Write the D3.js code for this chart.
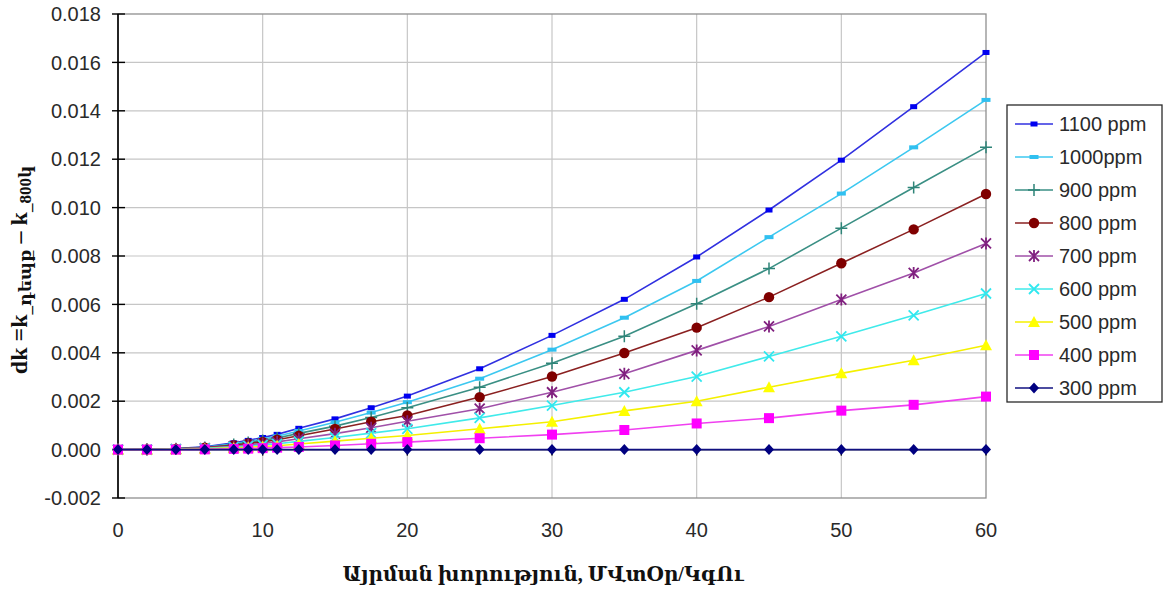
<!DOCTYPE html>
<html>
<head>
<meta charset="utf-8">
<script src="https://cdn.jsdelivr.net/npm/d3@7"></script>
<style>
  body { margin: 0; background: #fff; }
  svg { display: block; }
</style>
</head>
<body>
<svg id="chart" width="1168" height="589"></svg>
<script>
// Burn-up depth (x) and reactivity difference for each enrichment series
const depth = [0, 2, 4, 6, 8, 9, 10, 11, 12.5, 15, 17.5, 20, 25, 30, 35, 40, 45, 50, 55, 60];

const dk1100 = [0, 0.00001, 0.00004, 0.00012, 0.00028, 0.00038, 0.00050, 0.00063, 0.00088, 0.00127, 0.00173, 0.00221, 0.00334, 0.00472, 0.00621, 0.00796, 0.00990, 0.01196, 0.01417, 0.01641];
const dk1000 = [0, 0.00001, 0.00003, 0.00010, 0.00024, 0.00033, 0.00044, 0.00055, 0.00077, 0.00113, 0.00153, 0.00196, 0.00293, 0.00413, 0.00545, 0.00697, 0.00878, 0.01058, 0.01249, 0.01445];
const dk900  = [0, 0.00001, 0.00003, 0.00009, 0.00021, 0.00029, 0.00038, 0.00048, 0.00067, 0.00097, 0.00133, 0.00173, 0.00258, 0.00357, 0.00468, 0.00603, 0.00748, 0.00915, 0.01083, 0.01249];
const dk800  = [0, 0.00001, 0.00003, 0.00008, 0.00018, 0.00025, 0.00032, 0.00041, 0.00057, 0.00085, 0.00115, 0.00141, 0.00217, 0.00302, 0.00399, 0.00504, 0.00630, 0.00770, 0.00910, 0.01056];
const dk700  = [0, 0, 0.00002, 0.00006, 0.00014, 0.00019, 0.00025, 0.00032, 0.00045, 0.00066, 0.00090, 0.00117, 0.00169, 0.00237, 0.00313, 0.00410, 0.00509, 0.00620, 0.00730, 0.00852];
const dk600  = [0, 0, 0.00002, 0.00005, 0.00011, 0.00015, 0.00019, 0.00024, 0.00034, 0.00050, 0.00068, 0.00086, 0.00131, 0.00182, 0.00237, 0.00302, 0.00385, 0.00468, 0.00555, 0.00645];
const dk500  = [0, 0, 0.00001, 0.00003, 0.00007, 0.00010, 0.00013, 0.00016, 0.00023, 0.00035, 0.00047, 0.00058, 0.00086, 0.00115, 0.00160, 0.00200, 0.00258, 0.00315, 0.00369, 0.00431];
const dk400  = [0, 0, 0, 0.00001, 0.00003, 0.00004, 0.00006, 0.00008, 0.00011, 0.00017, 0.00024, 0.00031, 0.00047, 0.00062, 0.00081, 0.00108, 0.00130, 0.00161, 0.00185, 0.00219];
const dk300  = [0, 0, 0, 0, 0, 0, 0, 0, 0, 0, 0, 0, 0, 0, 0, 0, 0, 0, 0, 0];

const seriesNames = ["1100 ppm", "1000ppm", "900 ppm", "800 ppm", "700 ppm", "600 ppm", "500 ppm", "400 ppm", "300 ppm"];
const seriesValues = [dk1100, dk1000, dk900, dk800, dk700, dk600, dk500, dk400, dk300];

const xTickValues = [0, 10, 20, 30, 40, 50, 60];
const yTickValues = [-0.002, 0, 0.002, 0.004, 0.006, 0.008, 0.010, 0.012, 0.014, 0.016, 0.018];

const xTitle = "Այրման խորություն, ՄՎտՕր/ԿգՈւ";

// Line colour, marker colour and marker shape for each series
const styles = [
  { line: "#3030e0", fill: "#0000f0", shape: "smallRect" },
  { line: "#3cc8f0", fill: "#30c0f0", shape: "dash" },
  { line: "#3a8f84", fill: "#2e8478", shape: "plus" },
  { line: "#8a2020", fill: "#800000", shape: "circle" },
  { line: "#a050a8", fill: "#80207f", shape: "star" },
  { line: "#40eaea", fill: "#30e8f0", shape: "cross" },
  { line: "#f4f000", fill: "#ffff00", shape: "triangle" },
  { line: "#f040f0", fill: "#ff00ff", shape: "square" },
  { line: "#101080", fill: "#000080", shape: "diamond" }
];

const svg = d3.select("#chart");
const plotLeft = 118, plotRight = 986, plotTop = 14, plotBottom = 498;

const x = d3.scaleLinear().domain([0, 60]).range([plotLeft, plotRight]);
const y = d3.scaleLinear().domain([-0.002, 0.018]).range([plotBottom, plotTop]);

// Grid
const grid = svg.append("g");
grid.selectAll("line.v").data(xTickValues.filter(d => d > 0 && d < 60)).join("line")
  .attr("x1", d => x(d)).attr("x2", d => x(d)).attr("y1", plotTop).attr("y2", plotBottom)
  .attr("stroke", "#c6c6c6").attr("stroke-width", 1.2);
grid.selectAll("line.h").data(yTickValues.filter(d => d > -0.002 && d < 0.018)).join("line")
  .attr("x1", plotLeft).attr("x2", plotRight).attr("y1", d => y(d)).attr("y2", d => y(d))
  .attr("stroke", "#c6c6c6").attr("stroke-width", 1.2);
grid.append("rect").attr("x", plotLeft).attr("y", plotTop)
  .attr("width", plotRight - plotLeft).attr("height", plotBottom - plotTop)
  .attr("fill", "none").attr("stroke", "#8f8f8f").attr("stroke-width", 1.3);

// Y axis with ticks crossing the axis line
const yAxis = svg.append("g");
yAxis.append("line").attr("x1", plotLeft).attr("x2", plotLeft).attr("y1", plotTop).attr("y2", plotBottom)
  .attr("stroke", "#000").attr("stroke-width", 1.6);
yAxis.selectAll("line.t").data(yTickValues).join("line")
  .attr("x1", plotLeft - 6).attr("x2", plotLeft + 7).attr("y1", d => y(d)).attr("y2", d => y(d))
  .attr("stroke", "#000").attr("stroke-width", 1.4);
yAxis.selectAll("text").data(yTickValues).join("text")
  .attr("x", 101).attr("y", d => y(d)).attr("dy", "0.36em")
  .attr("text-anchor", "end")
  .attr("font-family", "Liberation Sans, Arial, sans-serif").attr("font-size", 20).attr("fill", "#2a2a2a")
  .text(d => d3.format(".3f")(d).replace("−", "-"));

// X axis drawn along zero, labels below the plot
const xAxis = svg.append("g");
xAxis.append("line").attr("x1", plotLeft).attr("x2", plotRight).attr("y1", y(0)).attr("y2", y(0))
  .attr("stroke", "#000").attr("stroke-width", 1.4);
xAxis.selectAll("line.t").data(xTickValues).join("line")
  .attr("x1", d => x(d)).attr("x2", d => x(d)).attr("y1", y(0)).attr("y2", y(0) + 6)
  .attr("stroke", "#000").attr("stroke-width", 1.4);
xAxis.selectAll("text").data(xTickValues).join("text")
  .attr("x", d => x(d)).attr("y", 537)
  .attr("text-anchor", "middle")
  .attr("font-family", "Liberation Sans, Arial, sans-serif").attr("font-size", 20).attr("fill", "#2a2a2a")
  .text(d => d);

// Marker shapes
function marker(sel, shape, st) {
  switch (shape) {
    case "smallRect":
      sel.append("rect").attr("x", -3.5).attr("y", -2.5).attr("width", 7).attr("height", 5).attr("fill", st.fill); break;
    case "dash":
      sel.append("rect").attr("x", -4.5).attr("y", -2).attr("width", 9).attr("height", 4).attr("fill", st.fill); break;
    case "plus":
      sel.append("path").attr("d", "M-6,0H6M0,-6V6").attr("stroke", st.fill).attr("stroke-width", 1.5).attr("fill", "none"); break;
    case "circle":
      sel.append("circle").attr("r", 5.2).attr("fill", st.fill); break;
    case "star":
      sel.append("path").attr("d", "M-5,-5L5,5M-5,5L5,-5M0,-6V6").attr("stroke", st.fill).attr("stroke-width", 1.8).attr("fill", "none"); break;
    case "cross":
      sel.append("path").attr("d", "M-5,-5L5,5M-5,5L5,-5").attr("stroke", st.fill).attr("stroke-width", 1.8).attr("fill", "none"); break;
    case "triangle":
      sel.append("path").attr("d", "M0,-6L6,5H-6Z").attr("fill", st.fill); break;
    case "square":
      sel.append("rect").attr("x", -5).attr("y", -5).attr("width", 10).attr("height", 10).attr("fill", st.fill); break;
    case "diamond":
      sel.append("path").attr("d", "M0,-5.5L5,0L0,5.5L-5,0Z").attr("fill", st.fill); break;
  }
}

// Series lines and markers
const line = d3.line().x(d => x(d[0])).y(d => y(d[1]));
const plot = svg.append("g");
seriesValues.forEach((vals, i) => {
  const st = styles[i];
  const pts = depth.map((d, j) => [d, vals[j]]);
  const g = plot.append("g");
  g.append("path").datum(pts).attr("d", line)
    .attr("fill", "none").attr("stroke", st.line).attr("stroke-width", 1.6);
  g.selectAll("g.m").data(pts).join("g")
    .attr("transform", d => `translate(${x(d[0])},${y(d[1])})`)
    .each(function () { marker(d3.select(this), st.shape, st); });
});

// Legend
const legend = svg.append("g");
legend.append("rect").attr("x", 1007).attr("y", 105).attr("width", 155).attr("height", 297)
  .attr("fill", "#fff").attr("stroke", "#2a2a2a").attr("stroke-width", 1.3);
seriesNames.forEach((name, i) => {
  const st = styles[i];
  const ly = 124 + i * 33;
  const row = legend.append("g");
  row.append("line").attr("x1", 1015).attr("x2", 1053).attr("y1", ly).attr("y2", ly)
    .attr("stroke", st.line).attr("stroke-width", 1.6);
  marker(row.append("g").attr("transform", `translate(1034,${ly})`), st.shape, st);
  row.append("text").attr("x", 1059).attr("y", ly).attr("dy", "0.36em")
    .attr("font-family", "Liberation Sans, Arial, sans-serif").attr("font-size", 20).attr("fill", "#2a2a2a")
    .text(name);
});

// Axis titles
svg.append("text").attr("x", 543).attr("y", 581).attr("text-anchor", "middle")
  .attr("font-family", "Liberation Serif, DejaVu Serif, serif").attr("font-weight", "bold")
  .attr("font-size", 20).attr("fill", "#111").text(xTitle);

const yTitle = svg.append("text")
  .attr("transform", "translate(27,270) rotate(-90)")
  .attr("text-anchor", "middle")
  .attr("font-family", "Liberation Serif, DejaVu Serif, serif").attr("font-weight", "bold")
  .attr("font-size", 24).attr("fill", "#111");
yTitle.append("tspan").text("dk =k");
yTitle.append("tspan").attr("font-size", 17).attr("dy", 4).text("_դեպք");
yTitle.append("tspan").attr("dy", -4).text(" – k");
yTitle.append("tspan").attr("font-size", 17).attr("dy", 4).text("_800կ");
</script>
</body>
</html>
